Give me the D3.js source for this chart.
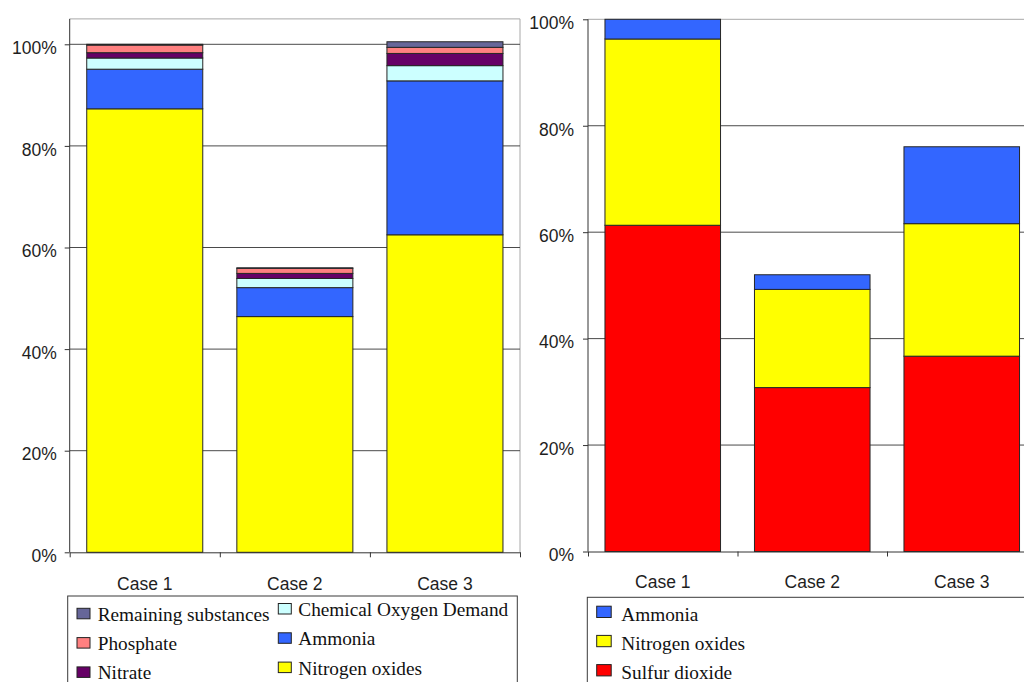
<!DOCTYPE html>
<html>
<head>
<meta charset="utf-8">
<script src="https://cdn.jsdelivr.net/npm/d3@7"></script>
<style>
  html, body { margin: 0; padding: 0; background: #fff; }
  svg { display: block; }
</style>
</head>
<body>
<svg id="chart" width="1024" height="682"></svg>
<script>
// ---- data -------------------------------------------------------------
const cases = ["Case 1", "Case 2", "Case 3"];

// Left panel: contributions (%) stacked bottom to top
const leftSeries = ["Nitrogen oxides", "Ammonia", "Chemical Oxygen Demand", "Nitrate", "Phosphate", "Remaining substances"];
const leftNitrogenOxides = [87.3, 46.4, 62.5];
const leftAmmonia        = [7.8, 5.7, 30.3];
const leftCOD            = [2.2, 1.8, 3.0];
const leftNitrate        = [1.05, 1.0, 2.4];
const leftPhosphate      = [1.5, 1.0, 1.2];
const leftRemaining      = [0.15, 0.1, 1.1];

// Right panel: contributions (%) stacked bottom to top
const rightSeries = ["Sulfur dioxide", "Nitrogen oxides", "Ammonia"];
const rightSulfurDioxide  = [61.3, 30.8, 36.7];
const rightNitrogenOxides = [35.0, 18.45, 24.9];
const rightAmmonia        = [3.7, 2.75, 14.45];

const yTicks = [0, 20, 40, 60, 80, 100];

// ---- styling ----------------------------------------------------------
const colors = {
  "Nitrogen oxides": "#ffff00",
  "Ammonia": "#3366ff",
  "Chemical Oxygen Demand": "#ccffff",
  "Nitrate": "#660066",
  "Phosphate": "#ff8080",
  "Remaining substances": "#666699",
  "Sulfur dioxide": "#ff0000"
};
const axisFont = "'Liberation Sans', Arial, sans-serif";
const legendFont = "'Liberation Serif', 'Times New Roman', serif";

const svg = d3.select("#chart");

function buildRows(series, columns) {
  return cases.map((c, i) => {
    const row = { case: c };
    series.forEach((s, k) => { row[s] = columns[k][i]; });
    return row;
  });
}

function drawPanel(opt) {
  const g = svg.append("g");
  const x = d3.scaleBand().domain(cases).range([opt.left, opt.right])
    .paddingInner(0.227).paddingOuter(0.1135);
  const y = d3.scaleLinear().domain([0, opt.yMax]).range([opt.bottom, opt.top]);

  // plot-area frame (light)
  g.append("line").attr("x1", opt.left).attr("x2", opt.right)
    .attr("y1", opt.top).attr("y2", opt.top)
    .attr("stroke", "#a8a8a8").attr("stroke-width", 1);
  g.append("line").attr("x1", opt.right).attr("x2", opt.right)
    .attr("y1", opt.top).attr("y2", opt.bottom)
    .attr("stroke", "#a8a8a8").attr("stroke-width", 1);

  // gridlines
  g.append("g").selectAll("line")
    .data(yTicks.filter(t => t > 0 && y(t) > opt.top + 0.5))
    .join("line")
    .attr("x1", opt.left).attr("x2", opt.right)
    .attr("y1", d => y(d)).attr("y2", d => y(d))
    .attr("stroke", "#4a4a4a").attr("stroke-width", 1);

  // stacked bars
  const stack = d3.stack().keys(opt.series)(opt.rows);
  g.append("g").selectAll("g").data(stack).join("g")
    .attr("fill", d => colors[d.key])
    .selectAll("rect").data(d => d).join("rect")
    .attr("x", d => x(d.data.case))
    .attr("width", x.bandwidth())
    .attr("y", d => y(d[1]))
    .attr("height", d => y(d[0]) - y(d[1]))
    .attr("stroke", "#262626").attr("stroke-width", 1);

  // y axis
  const yAxis = d3.axisLeft(y).tickValues(yTicks)
    .tickFormat(d => d + "%").tickSizeInner(5).tickSizeOuter(0)
    .tickPadding(opt.yPad);
  const ya = g.append("g").attr("transform", `translate(${opt.left},0)`).call(yAxis);
  ya.select(".domain").remove();
  ya.selectAll(".tick line").attr("stroke", "#333");
  ya.selectAll(".tick text").attr("dy", "0.53em")
    .style("font-family", axisFont).style("font-size", "17.5px").attr("fill", "#1e1e1e");
  g.append("line").attr("x1", opt.left).attr("x2", opt.left)
    .attr("y1", opt.top).attr("y2", opt.bottom)
    .attr("stroke", "#333").attr("stroke-width", 1);

  // x axis: line with ticks between categories
  const xb = d3.scaleLinear().domain([0, cases.length]).range([opt.left, opt.right]);
  const xAxis = d3.axisBottom(xb).tickValues(d3.range(cases.length + 1))
    .tickFormat("").tickSizeInner(5).tickSizeOuter(0);
  const xa = g.append("g").attr("transform", `translate(0,${opt.bottom})`).call(xAxis);
  xa.select(".domain").attr("stroke", "#333");
  xa.selectAll(".tick line").attr("stroke", "#333");

  // category labels
  g.append("g").selectAll("text").data(cases).join("text")
    .attr("x", d => x(d) + x.bandwidth() / 2)
    .attr("y", opt.labelY)
    .attr("text-anchor", "middle")
    .style("font-family", axisFont).style("font-size", "17.5px")
    .attr("fill", "#1e1e1e")
    .text(d => d);

  // legend
  const lg = svg.append("g");
  lg.append("rect").attr("x", opt.legend.x).attr("y", opt.legend.y)
    .attr("width", opt.legend.w).attr("height", 200)
    .attr("fill", "#fff").attr("stroke", "#3a3a3a").attr("stroke-width", 1);
  const items = opt.series.slice().reverse();
  items.forEach((name, i) => {
    const col = Math.floor(i / 3), row = i % 3;
    const c = opt.legend.cols[col];
    const base = c.base + row * opt.legend.step;
    lg.append("rect").attr("x", c.mx).attr("y", base - opt.legend.mOff)
      .attr("width", opt.legend.mw).attr("height", opt.legend.mh)
      .attr("fill", colors[name]).attr("stroke", "#222").attr("stroke-width", 1);
    lg.append("text").attr("x", c.tx).attr("y", base)
      .style("font-family", legendFont).style("font-size", "19.3px")
      .attr("fill", "#111").text(name);
  });
}

drawPanel({
  series: leftSeries,
  rows: buildRows(leftSeries, [leftNitrogenOxides, leftAmmonia, leftCOD, leftNitrate, leftPhosphate, leftRemaining]),
  left: 69.7, right: 520, top: 18.9, bottom: 552.3, yMax: 105, yPad: 8,
  labelY: 589.5,
  legend: {
    x: 67.7, y: 596, w: 449.6, step: 29.3, mw: 13, mh: 10.5, mOff: 12.5,
    cols: [{ mx: 77, tx: 97.7, base: 620.8 }, { mx: 278.3, tx: 298.3, base: 616 }]
  }
});

drawPanel({
  series: rightSeries,
  rows: buildRows(rightSeries, [rightSulfurDioxide, rightNitrogenOxides, rightAmmonia]),
  left: 588, right: 1036.5, top: 19.3, bottom: 551.5, yMax: 100, yPad: 9,
  labelY: 588,
  legend: {
    x: 587.3, y: 597.3, w: 500, step: 29.2, mw: 14.5, mh: 11.3, mOff: 14.6,
    cols: [{ mx: 596.7, tx: 621.3, base: 620.8 }]
  }
});
</script>
</body>
</html>
